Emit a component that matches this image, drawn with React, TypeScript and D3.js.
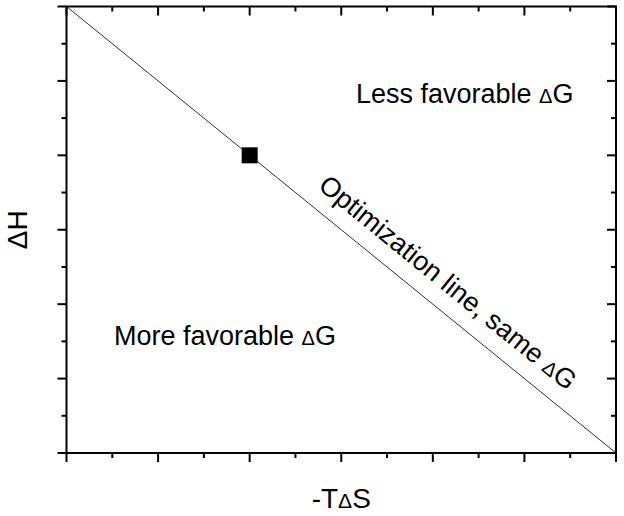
import React from 'react';
import * as d3 from 'd3';

// data (arbitrary units, no tick labels)
const lineX = [0, 6];
const lineY = [6, 0];
const pointX = [2];
const pointY = [4];
const majorTicks = [0, 1, 2, 3, 4, 5, 6];
const minorTicks = [0.5, 1.5, 2.5, 3.5, 4.5, 5.5];

const W = 624;
const H = 516;
const margin = { top: 6.5, right: 8, bottom: 63, left: 66.5 };
const FONT = 'Liberation Sans, Arial, Helvetica, sans-serif';

const App = () => {
    const x = d3.scaleLinear().domain([0, 6]).range([margin.left, W - margin.right]);
    const y = d3.scaleLinear().domain([0, 6]).range([H - margin.bottom, margin.top]);

    const x0 = x(0), x1 = x(6), y0 = y(0), y1 = y(6);
    const major = 9, minor = 5;

    const line = d3.line<number>()
        .x(i => x(lineX[i]))
        .y(i => y(lineY[i]));

    const angle = Math.atan2(y(0) - y(6), x(6) - x(0)) * 180 / Math.PI;

    const ticks = (vals: number[], len: number) => vals.map(v => (
        <g key={`${len}-${v}`}>
            {/* bottom: outward */}
            <line x1={x(v)} x2={x(v)} y1={y0} y2={y0 + len} />
            {/* top: inward */}
            <line x1={x(v)} x2={x(v)} y1={y1} y2={y1 + len} />
            {/* left: outward */}
            <line x1={x0} x2={x0 - len} y1={y(v)} y2={y(v)} />
            {/* right: inward */}
            <line x1={x1} x2={x1 - len} y1={y(v)} y2={y(v)} />
        </g>
    ));

    return (
        <svg width={W} height={H} style={{ position: 'absolute', left: 0, top: 0, background: '#fff' }}
            fontFamily={FONT}>
            {/* optimization line */}
            <path d={line(lineX.map((_, i) => i)) || ''} fill="none" stroke="#333" strokeWidth={1} />

            {/* marker */}
            {pointX.map((px, i) => (
                <rect key={i} x={x(px) - 8} y={y(pointY[i]) - 8} width={16} height={16} fill="#000" />
            ))}

            {/* frame + ticks */}
            <g stroke="#000" strokeWidth={2}>
                {ticks(majorTicks, major)}
                {ticks(minorTicks, minor)}
                <rect x={x0} y={y1} width={x1 - x0} height={y0 - y1} fill="none" />
            </g>

            {/* annotations */}
            <text x={356} y={103} fontSize={27}>
                Less favorable <tspan fontSize={20}>Δ</tspan>G
            </text>
            <text x={114} y={345} fontSize={27}>
                More favorable <tspan fontSize={20}>Δ</tspan>G
            </text>
            <text transform={`translate(317,188) rotate(${angle})`} fontSize={27}>
                Optimization line, same <tspan fontSize={20}>Δ</tspan>G
            </text>

            {/* axis titles */}
            <text x={(x0 + x1) / 2} y={508} fontSize={28} textAnchor="middle">
                -T<tspan fontSize={21}>Δ</tspan>S
            </text>
            <text transform={`translate(27,${(y0 + y1) / 2}) rotate(-90)`} fontSize={28} textAnchor="middle">
                ΔH
            </text>
        </svg>
    );
};

export default App;
